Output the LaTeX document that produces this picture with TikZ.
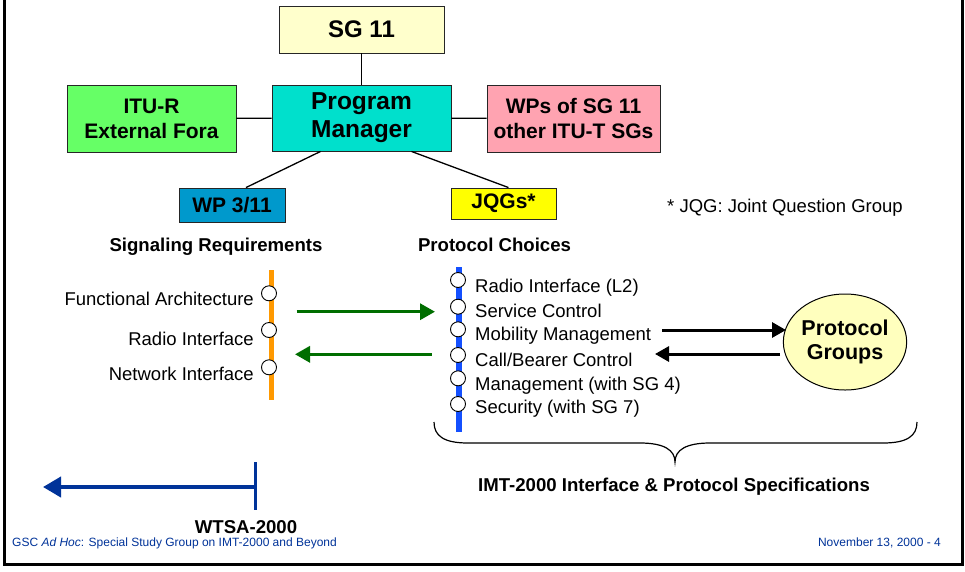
\documentclass[tikz,border=0pt]{standalone}
\usepackage{fontspec}
\setmainfont{Liberation Sans}
\usetikzlibrary{arrows.meta,calc,shapes.geometric}
\definecolor{sgyellow}{RGB}{255,255,204}
\definecolor{itugreen}{RGB}{102,255,102}
\definecolor{pmteal}{RGB}{0,224,204}
\definecolor{wppink}{RGB}{255,163,177}
\definecolor{wpblue}{RGB}{0,153,204}
\definecolor{jqyellow}{RGB}{255,255,0}
\definecolor{pgyellow}{RGB}{255,255,190}
\definecolor{lineorange}{RGB}{255,153,0}
\definecolor{lineblue}{RGB}{20,80,255}
\definecolor{arrgreen}{RGB}{0,110,0}
\definecolor{navy}{RGB}{0,51,153}
\tikzset{
  box/.style={draw=black!85, line width=0.9pt, inner sep=0pt, align=center, font=\bfseries\fontsize{21}{25}\selectfont},
  conn/.style={line width=1.3pt, black},
  dot/.style={circle, draw=black, fill=white, line width=0.9pt, minimum size=15pt, inner sep=0pt},
  item/.style={font=\fontsize{18.5}{20}\selectfont, inner sep=0pt},
  head/.style={font=\bfseries\fontsize{18.6}{20}\selectfont, inner sep=0pt},
  greenarr/.style={arrgreen, line width=3.3pt, -{Triangle[length=15pt,width=16pt]}},
  blackarr/.style={black, line width=3pt, -{Triangle[length=14pt,width=15pt]}},
}
\begin{document}
\begin{tikzpicture}[x=1pt,y=-1pt]
\useasboundingbox (0,0) rectangle (965,571);
\fill[white] (0,0) rectangle (965,571);
% frame
\draw[line width=3pt] (4,-5) -- (4,564) -- (962,564) -- (962,-5);

% top boxes
\node[box, fill=sgyellow, minimum width=165pt, minimum height=47pt, font=\bfseries\fontsize{24}{28}\selectfont] (sg) at (361.5,29.5) {SG 11};
\node[box, fill=itugreen, minimum width=169pt, minimum height=67pt] (itu) at (151.5,118.5) {ITU-R\\External Fora};
\node[box, fill=pmteal, minimum width=179pt, minimum height=66pt, font=\bfseries\fontsize{24.5}{28}\selectfont] (pm) at (361.5,118) {Program\\Manager};
\node[box, fill=wppink, minimum width=173pt, minimum height=67pt] (wps) at (573.5,118.5) {WPs of SG 11\\other ITU-T SGs};
\node[box, fill=wpblue, minimum width=106pt, minimum height=34pt, font=\bfseries\fontsize{21}{24}\selectfont] (wp) at (232,205) {WP 3/11};
\node[box, fill=jqyellow, minimum width=105pt, minimum height=31pt, font=\bfseries\fontsize{21}{24}\selectfont] (jqg) at (503.5,203.5) {JQGs*};

\draw[conn] (sg) -- (pm);
\draw[conn] (itu) -- (pm);
\draw[conn] (pm) -- (wps);
\draw[conn] ($(pm.south)+(-41,0)$) -- ($(wp.north)+(14,0)$);
\draw[conn] ($(pm.south)+(50,0)$) -- ($(jqg.north)+(5,0)$);

\node[item, anchor=base west] (note) at (667,212.5) {* JQG: Joint Question Group};

% headings
\node[head, anchor=base] (sigreq) at (216,251) {Signaling Requirements};
\node[head, anchor=base] (protch) at (494.5,251) {Protocol Choices};

% left list
\draw[lineorange, line width=5pt] (271,270) -- (271,400);
\node[dot] (l1) at (269,293.3) {};
\node[dot] (l2) at (269,330) {};
\node[dot] (l3) at (269,367.3) {};
\node[item, anchor=base east] (lt1) at (254,305) {Functional Architecture};
\node[item, anchor=base east] (lt2) at (254,345) {Radio Interface};
\node[item, anchor=base east] (lt3) at (254,380) {Network Interface};

% right list
\draw[lineblue, line width=6pt] (459,267) -- (459,432);
\node[dot] (r1) at (458,280) {};
\node[dot] (r2) at (458,306.7) {};
\node[dot] (r3) at (458,329.3) {};
\node[dot] (r4) at (458,355) {};
\node[dot] (r5) at (458,378.3) {};
\node[dot] (r6) at (458,404) {};
\node[item, anchor=base west] (rt1) at (475,292.7) {Radio Interface (L2)};
\node[item, anchor=base west] (rt2) at (475,317.3) {Service Control};
\node[item, anchor=base west] (rt3) at (475,340) {Mobility Management};
\node[item, anchor=base west] (rt4) at (475,366.7) {Call/Bearer Control};
\node[item, anchor=base west] (rt5) at (475,390) {Management (with SG 4)};
\node[item, anchor=base west] (rt6) at (475,413.3) {Security (with SG 7)};

% green arrows
\coordinate (ga1) at (296.7,311.7);
\coordinate (ga2) at (435,311.7);
\coordinate (gb1) at (431.7,354.3);
\coordinate (gb2) at (295,354.3);
\draw[greenarr] (ga1) -- (ga2);
\draw[greenarr] (gb1) -- (gb2);

% protocol groups
\node[ellipse, draw=black, line width=1pt, fill=pgyellow, minimum width=110pt, minimum height=96pt, inner sep=0pt, align=center, font=\bfseries\fontsize{21.5}{24}\selectfont] (pg) at (845,342) {Protocol\\Groups};
\coordinate (ba1) at (662,330);
\coordinate (ba2) at (786,330);
\coordinate (bb1) at (780,354);
\coordinate (bb2) at (655,354);
\draw[blackarr] (ba1) -- (ba2);
\draw[blackarr] (bb1) -- (bb2);

% brace
\draw[line width=1.2pt] (434,422) .. controls (434,436) and (444,443) .. (468,443)
  -- (640,443) .. controls (664,443) and (675,450) .. (675,462)
  .. controls (675,450) and (686,443) .. (710,443)
  -- (883,443) .. controls (907,443) and (917,436) .. (917,422);
\node[head, anchor=base] (imt) at (674,491.5) {IMT-2000 Interface \& Protocol Specifications};

% WTSA
\coordinate (wa) at (255,487);
\coordinate (wb) at (43,487);
\draw[navy, line width=3pt] (255,462) -- (255,510);
\draw[navy, line width=4pt, -{Triangle[length=18pt,width=20pt]}] (wa) -- (wb);
\node[head, anchor=base] (wtsa) at (246,533) {WTSA-2000};

% footer
\node[anchor=base west, inner sep=0pt, text=navy, font=\fontsize{12}{14}\selectfont] (footl) at (12,546.5) {GSC \textit{Ad Hoc}: Special Study Group on IMT-2000 and Beyond};
\node[anchor=base east, inner sep=0pt, text=navy, font=\fontsize{12}{14}\selectfont] (footr) at (941,546.5) {November 13, 2000 - 4};
\end{tikzpicture}
\end{document}
